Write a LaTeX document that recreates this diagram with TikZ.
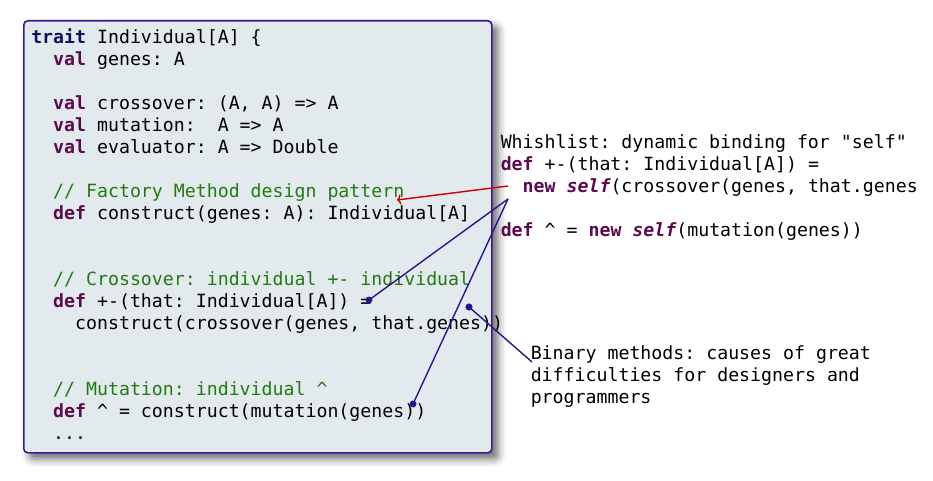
\documentclass[tikz,border=0pt]{standalone}
\usepackage{fontspec}
\setmonofont{DejaVu Sans Mono}
\usetikzlibrary{arrows.meta,positioning,shadows.blur}

\definecolor{codebg}{HTML}{E3EAEE}
\definecolor{codeframe}{HTML}{3A1A99}
\definecolor{kwpurple}{HTML}{5C0A50}
\definecolor{kwnavy}{HTML}{10105E}
\definecolor{cmtgreen}{HTML}{237A12}
\definecolor{linkblue}{HTML}{2C1290}
\definecolor{linkred}{HTML}{CC0000}

\newcommand{\kw}[1]{\textbf{\textcolor{kwpurple}{#1}}}
\newcommand{\kwt}[1]{\textbf{\textcolor{kwnavy}{#1}}}
\newcommand{\cmt}[1]{\textcolor{cmtgreen}{#1}}
\newcommand{\selfkw}{\textbf{\textit{\textcolor{kwpurple}{self}}}}
\newcommand{\indt}{\hphantom{xx}}

\begin{document}
\begin{tikzpicture}[
    x=0.75pt, y=-0.75pt,
    codebox/.style={draw=codeframe, line width=1.2pt, fill=codebg, rounded corners=3pt,
        minimum width=351pt, minimum height=324pt, anchor=north west,
        blur shadow={shadow xshift=4.5pt, shadow yshift=-4.5pt, shadow blur radius=6pt, shadow opacity=60}},
    code/.style={inner sep=0pt, anchor=north west, align=left,
        font=\ttfamily\fontsize{13.67}{16.5}\selectfont\frenchspacing},
    link/.style={-{Circle[length=5.2pt]}, shorten >=-2.6pt, line width=1.05pt, linkblue},
    arrow/.style={-{To[length=3pt,width=7.5pt]}, line width=1.05pt, linkred}
]
\useasboundingbox (0,0) rectangle (933,481);

% Code listing
\node[codebox] (frame) at (23,20) {};
\node[code] (listing) at (31,28.1) {\strut\kwt{trait} Individual[A] \{\\
\indt\kw{val} genes: A\\
\\
\indt\kw{val} crossover: (A, A) => A\\
\indt\kw{val} mutation:\ \ A => A\\
\indt\kw{val} evaluator: A => Double\\
\\
\indt\cmt{// Factory Method design pattern}\\
\indt\kw{def} construct(genes: A): Individual[A]\\
\\
\\
\indt\cmt{// Crossover: individual +- individual}\\
\indt\kw{def} +-(that: Individual[A]) =\\
\indt\indt construct(crossover(genes, that.genes))\\
\\
\\
\indt\cmt{// Mutation: individual \textasciicircum}\\
\indt\kw{def} \textasciicircum{} = construct(mutation(genes))\\
\indt...};

% Wishlist
\node[code] (wish) at (500.5,133.1) {\strut Whishlist: dynamic binding for "self"\\
\kw{def} +-(that: Individual[A]) =\\
\indt\kw{new} \selfkw(crossover(genes, that.genes\\
\\
\kw{def} \textasciicircum{} = \kw{new} \selfkw(mutation(genes))};

% Remark
\node[code] (binary) at (530.5,344.1) {\strut Binary methods: causes of great\\
difficulties for designers and\\
programmers};

% Anchor points
\coordinate (newself) at (508,186);
\coordinate (factory) at (397,200);
\coordinate (wishlink) at (508,199);
\coordinate (crossdef) at (369,300);
\coordinate (mutdef) at (413,404);
\coordinate (binlink) at (532,362);
\coordinate (binsite) at (469,307);

% Connectors
\draw[arrow] (newself) -- (factory);
\draw[link] (wishlink) -- (crossdef);
\draw[link] (wishlink) -- (mutdef);
\draw[link] (binlink) -- (binsite);

\end{tikzpicture}
\end{document}
